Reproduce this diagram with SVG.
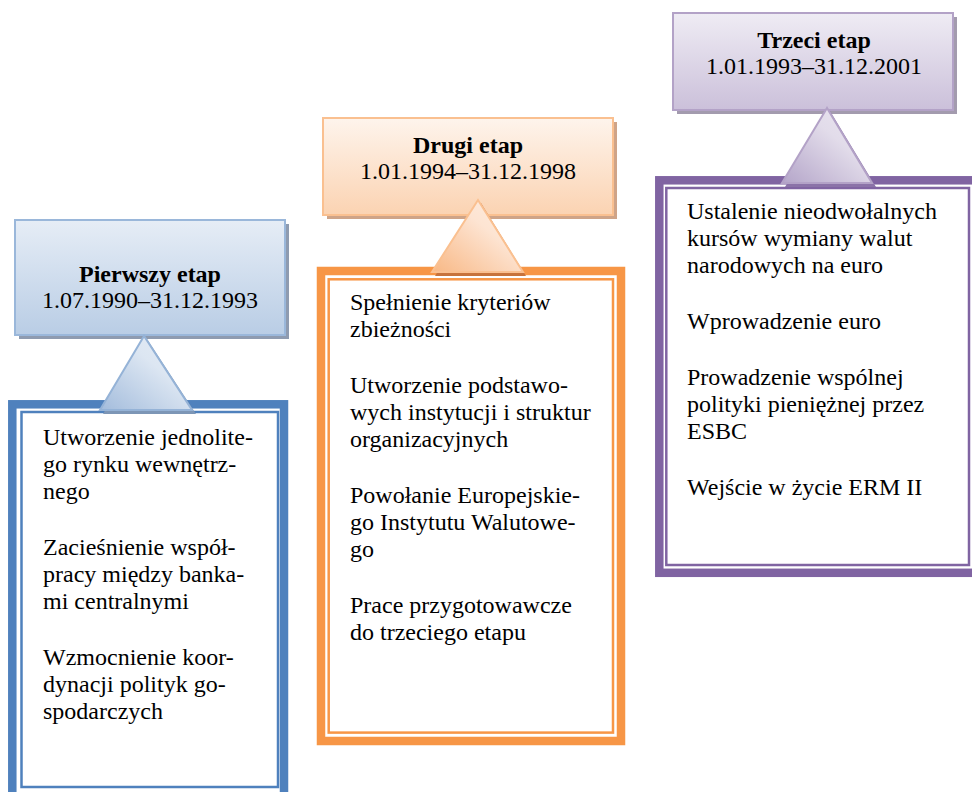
<svg xmlns="http://www.w3.org/2000/svg" width="972" height="792" viewBox="0 0 972 792">
<defs>
<linearGradient id="gBlue" x1="0" y1="0" x2="0" y2="1"><stop offset="0" stop-color="#e6edf6"/><stop offset="1" stop-color="#b9cde5"/></linearGradient>
<linearGradient id="gOrange" x1="0" y1="0" x2="0" y2="1"><stop offset="0" stop-color="#fef4ec"/><stop offset="1" stop-color="#fbd3b2"/></linearGradient>
<linearGradient id="gPurple" x1="0" y1="0" x2="0" y2="1"><stop offset="0" stop-color="#efecf4"/><stop offset="1" stop-color="#cbc0da"/></linearGradient>
<linearGradient id="tBlue" x1="0" y1="1" x2="1" y2="0"><stop offset="0" stop-color="#a3bcdc"/><stop offset="0.6" stop-color="#dce6f2"/><stop offset="1" stop-color="#e6edf6"/></linearGradient>
<linearGradient id="tOrange" x1="0" y1="1" x2="1" y2="0"><stop offset="0" stop-color="#f8b885"/><stop offset="0.6" stop-color="#fde4d2"/><stop offset="1" stop-color="#fdeee2"/></linearGradient>
<linearGradient id="tPurple" x1="0" y1="1" x2="1" y2="0"><stop offset="0" stop-color="#b4a5c9"/><stop offset="0.6" stop-color="#e2dcea"/><stop offset="1" stop-color="#ebe7f1"/></linearGradient>
</defs>
<style>
.h{text-anchor:middle}
.b{font-weight:bold}
.hdr{stroke-width:2}
.outer{fill:#fff;stroke-width:8.5}
.inner{fill:#fff;stroke-width:2.5}
.tri{stroke-width:2;stroke-linejoin:miter}
</style>
<g id="connectors"></g>

<g id="stage1" font-family="'Liberation Serif', 'DejaVu Serif', serif" font-size="24" fill="#000">
<rect class="outer" x="12.3" y="404.3" width="271.7" height="400" stroke="#4f81bd"/>
<rect class="inner" x="21.5" y="412" width="256.5" height="375" stroke="#4f81bd"/>
<rect x="19" y="224" width="270" height="115" fill="#8e9bb0"/>
<rect class="hdr" x="15" y="220" width="270" height="115" fill="url(#gBlue)" stroke="#9ab7da"/>
<polygon points="147,339 103,414 196,414" fill="#7d96b6"/>
<polygon class="tri" points="144,336 100,410 192,410" fill="url(#tBlue)" stroke="#95b3d7"/>
<text class="h b" x="150" y="282">Pierwszy etap</text>
<text class="h" x="150" y="308">1.07.1990–31.12.1993</text>
<text x="43" y="445">Utworzenie jednolite-</text>
<text x="43" y="472">go rynku wewnętrz-</text>
<text x="43" y="499">nego</text>
<text x="43" y="555">Zacieśnienie współ-</text>
<text x="43" y="582">pracy między banka-</text>
<text x="43" y="609">mi centralnymi</text>
<text x="43" y="665">Wzmocnienie koor-</text>
<text x="43" y="692">dynacji polityk go-</text>
<text x="43" y="719">spodarczych</text>
</g>

<g id="stage2" font-family="'Liberation Serif', 'DejaVu Serif', serif" font-size="24" fill="#000">
<rect class="outer" x="321" y="271" width="300" height="470" stroke="#f79646"/>
<rect class="inner" x="328.7" y="279.3" width="284.3" height="453.3" stroke="#f79646"/>
<rect x="327" y="122" width="290" height="97" fill="#cfa488"/>
<rect class="hdr" x="323" y="118" width="290" height="97" fill="url(#gOrange)" stroke="#fac090"/>
<polygon points="481,203 435,276 526,276" fill="#c7733c"/>
<polygon class="tri" points="478,200 432,272 523,272" fill="url(#tOrange)" stroke="#fac090"/>
<text class="h b" x="468" y="153">Drugi etap</text>
<text class="h" x="468" y="179">1.01.1994–31.12.1998</text>
<text x="350" y="310">Spełnienie kryteriów</text>
<text x="350" y="337">zbieżności</text>
<text x="350" y="393">Utworzenie podstawo-</text>
<text x="350" y="420">wych instytucji i struktur</text>
<text x="350" y="447">organizacyjnych</text>
<text x="350" y="503">Powołanie Europejskie-</text>
<text x="350" y="530">go Instytutu Walutowe-</text>
<text x="350" y="557">go</text>
<text x="350" y="613">Prace przygotowawcze</text>
<text x="350" y="640">do trzeciego etapu</text>
</g>

<g id="stage3" font-family="'Liberation Serif', 'DejaVu Serif', serif" font-size="24" fill="#000">
<rect class="outer" x="659.3" y="180.3" width="330" height="392.5" stroke="#8064a2"/>
<rect class="inner" x="666.3" y="188" width="302.7" height="377" stroke="#8064a2"/>
<rect x="677" y="17" width="280" height="97" fill="#a39bae"/>
<rect class="hdr" x="673" y="13" width="280" height="97" fill="url(#gPurple)" stroke="#b3a2c7"/>
<polygon points="830,111 785,187 876,187" fill="#8b73a8"/>
<polygon class="tri" points="827,108 782,183 872,183" fill="url(#tPurple)" stroke="#b3a2c7"/>
<text class="h b" x="814" y="48">Trzeci etap</text>
<text class="h" x="814" y="74">1.01.1993–31.12.2001</text>
<text x="687" y="219">Ustalenie nieodwołalnych</text>
<text x="687" y="246">kursów wymiany walut</text>
<text x="687" y="273">narodowych na euro</text>
<text x="687" y="329">Wprowadzenie euro</text>
<text x="687" y="385">Prowadzenie wspólnej</text>
<text x="687" y="412">polityki pieniężnej przez</text>
<text x="687" y="439">ESBC</text>
<text x="687" y="495">Wejście w życie ERM II</text>
</g>
</svg>
